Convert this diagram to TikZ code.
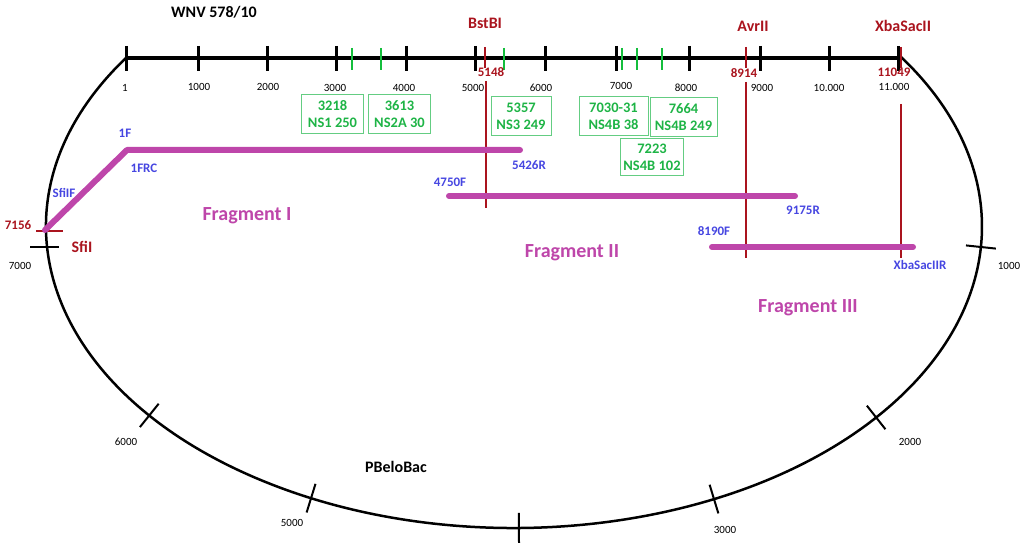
\documentclass[tikz,border=0pt]{standalone}
\usepackage{fontspec}
\setmainfont{Carlito}
\definecolor{dred}{RGB}{170,20,30}
\definecolor{fragc}{RGB}{190,70,170}
\definecolor{pblue}{RGB}{70,70,225}
\definecolor{gtext}{RGB}{30,180,70}
\definecolor{gboxc}{RGB}{100,205,130}
\definecolor{gtick}{RGB}{20,190,60}
\begin{document}
\begin{tikzpicture}[x=1pt,y=-1pt,
  ticklab/.style={font=\fontsize{11}{12}\selectfont, inner sep=0pt},
  redlab/.style={text=dred, font=\bfseries\fontsize{16}{18}\selectfont, inner sep=0pt},
  rednum/.style={text=dred, font=\bfseries\fontsize{13}{14}\selectfont, inner sep=0pt},
  bluelab/.style={text=pblue, font=\bfseries\fontsize{13}{14}\selectfont, inner sep=0pt},
  fraglab/.style={text=fragc, font=\bfseries\fontsize{20}{22}\selectfont, inner sep=0pt},
  titlelab/.style={font=\bfseries\fontsize{16}{18}\selectfont, inner sep=0pt},
  gbox/.style={draw=gboxc, line width=1pt, text=gtext, font=\bfseries\fontsize{14.5}{17}\selectfont, align=center, minimum height=39pt, inner sep=1pt},
  fragline/.style={draw=fragc, line width=6pt, line cap=round, line join=round},
  redline/.style={draw=dred, line width=2.5pt},
  blacktick/.style={draw=black, line width=3pt},
  greentick/.style={draw=gtick, line width=2.5pt},
]
\useasboundingbox (0,0) rectangle (1024,545);

% plasmid ellipse
\draw[line width=2.5pt] ({514+468*cos(146)},{226.5-301.5*sin(146)}) arc[start angle=146, end angle=394.4, x radius=468pt, y radius=301.5pt];

% ellipse ticks
\foreach \t in {-3.9,-39.3,-64.7,-89.4,244.3,218.8} {
  \pgfmathsetmacro\px{514+468*cos(\t)}
  \pgfmathsetmacro\py{226.5-301.5*sin(\t)}
  \pgfmathsetmacro\nx{0.644*cos(\t)}
  \pgfmathsetmacro\ny{-sin(\t)}
  \pgfmathsetmacro\nn{sqrt(\nx*\nx+\ny*\ny)}
  \pgfmathsetmacro\ax{\px-15*\nx/\nn}
  \pgfmathsetmacro\ay{\py-15*\ny/\nn}
  \pgfmathsetmacro\bx{\px+15*\nx/\nn}
  \pgfmathsetmacro\by{\py+15*\ny/\nn}
  \draw[line width=2pt] (\ax,\ay) -- (\bx,\by);
}

% main genome line
\draw[line width=4pt] (126,58) -- (899,58);
\foreach \x in {126,198,267,336,406,475,545,616,689,760,829,898}
  \draw[blacktick] (\x,46) -- (\x,71);
\foreach \x in {352,381,504,622,637,662}
  \draw[greentick] (\x,48) -- (\x,70);
\foreach \x in {485,746,901}
  \draw[redline] (\x,47) -- (\x,68);

% tick labels
\node[ticklab] (l1) at (125,88) {1};
\node[ticklab] (l1000) at (199,87) {1000};
\node[ticklab] (l2000) at (268,87) {2000};
\node[ticklab] (l3000) at (335,88) {3000};
\node[ticklab] (l4000) at (404,88) {4000};
\node[ticklab] (l5000) at (473,88) {5000};
\node[ticklab] (l6000) at (541,88) {6000};
\node[ticklab] (l7000) at (621,86) {7000};
\node[ticklab] (l8000) at (686,88) {8000};
\node[ticklab] (l9000) at (762,88) {9000};
\node[ticklab] (l10000) at (829,88) {10.000};
\node[ticklab] (l11000) at (894,87) {11.000};

% ring labels
\node[ticklab] (r1000) at (1009,266) {1000};
\node[ticklab] (r2000) at (910,442) {2000};
\node[ticklab] (r3000) at (725,530) {3000};
\node[ticklab] (r5000) at (292,523) {5000};
\node[ticklab] (r6000) at (126,442) {6000};
\node[ticklab] (r7000) at (20,266) {7000};

% titles
\node[titlelab] (wnv) at (214,12) {WNV 578/10};
\node[titlelab] (pbelo) at (396,467) {PBeloBac};

% restriction sites
\node[redlab] (bstbi) at (485,23) {BstBI};
\node[redlab] (avrii) at (753,26) {AvrII};
\node[redlab] (xba) at (903,26) {XbaSacII};
\node[rednum] (n5148) at (491,72) {5148};
\node[rednum] (n8914) at (744,73) {8914};
\node[rednum] (n11049) at (894,72) {11049};
\node[rednum] (n7156) at (18,225) {7156};
\node[redlab] (sfii) at (82,247) {SfiI};
\draw[redline] (486,81) -- (486,208);
\draw[redline] (746,82) -- (746,258);
\draw[redline] (901,104) -- (901,258);
\draw[redline] (36,231) -- (63,231);
\draw[line width=2pt] (30,247) -- (59,247);

% fragments
\draw[fragline] (45,230) -- (127,150) -- (520,150);
\draw[fragline] (449,196) -- (795,196);
\draw[fragline] (712,247) -- (913,247);
\node[fraglab] (f1) at (247,216) {Fragment I};
\node[fraglab] (f2) at (572,253) {Fragment II};
\node[fraglab] (f3) at (808,308) {Fragment III};

% primers
\node[bluelab] (p1f) at (125,133) {1F};
\node[bluelab] (p1frc) at (144,168) {1FRC};
\node[bluelab] (psfiif) at (64,193) {SfiIF};
\node[bluelab] (p5426) at (529,165) {5426R};
\node[bluelab] (p4750) at (450,182) {4750F};
\node[bluelab] (p9175) at (803,210) {9175R};
\node[bluelab] (p8190) at (714,231) {8190F};
\node[bluelab] (pxba) at (920,265) {XbaSacIIR};

% mutation boxes
\node[gbox, minimum width=62pt] (m1) at (332.5,114) {3218\\NS1 250};
\node[gbox, minimum width=62pt] (m2) at (399.5,114) {3613\\NS2A 30};
\node[gbox, minimum width=60pt] (m3) at (521,116.5) {5357\\NS3 249};
\node[gbox, minimum width=69pt] (m4) at (613.5,116.5) {7030-31\\NS4B 38};
\node[gbox, minimum width=67pt] (m5) at (683.5,117) {7664\\NS4B 249};
\node[gbox, minimum width=63pt, minimum height=37pt] (m6) at (652,157) {7223\\NS4B 102};
\end{tikzpicture}
\end{document}
